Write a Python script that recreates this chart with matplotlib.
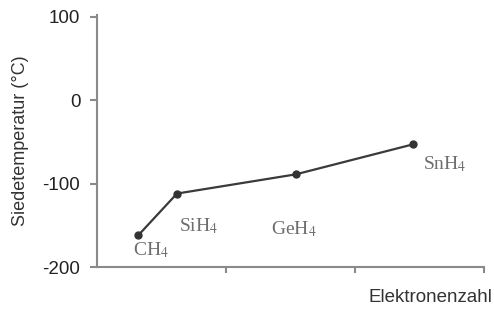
import matplotlib
matplotlib.use('Agg')
import matplotlib.pyplot as plt

plt.rcParams['mathtext.fontset'] = 'stix'

# positions along the (unlabelled) electron-count axis, in tick units
compounds = ['CH$_4$', 'SiH$_4$', 'GeH$_4$', 'SnH$_4$']
x_pos = [0.32, 0.62, 1.54, 2.45]
boiling = [-162, -112, -89, -53]
label_offsets = [(-5, -15), (2, -33), (-25, -55), (10, -20)]  # pixels

y_ticks = [-200, -100, 0, 100]
x_ticks = [0, 1, 2, 3]

sans = ['Liberation Sans', 'DejaVu Sans']
axis_color = '#8a8a8a'

fig = plt.figure(figsize=(4.94, 3.19), dpi=100)
ax = fig.add_axes([97/494, 1 - 267/319, 387/494, 252/319])

ax.plot(x_pos, boiling, color='#3a3a3a', linewidth=1.6, marker='o', markersize=5,
        markerfacecolor='#333333', markeredgecolor='#333333', zorder=3, clip_on=False)

for name, x, y, (dx, dy) in zip(compounds, x_pos, boiling, label_offsets):
    ax.annotate(name, (x, y), xytext=(dx, dy), textcoords='offset pixels',
                ha='left', va='center', fontsize=14, color='#6e6e6e',
                family=['Liberation Serif', 'DejaVu Serif'])

ax.set_xlim(0, 3)
ax.set_ylim(-200, 102)
ax.set_xticks(x_ticks)
ax.set_xticklabels([])
ax.set_yticks(y_ticks)
ax.set_yticklabels([str(t) for t in y_ticks], family=sans, fontsize=13.5, color='#222222')

for side in ['top', 'right']:
    ax.spines[side].set_visible(False)
for side in ['left', 'bottom']:
    ax.spines[side].set_color(axis_color)
    ax.spines[side].set_linewidth(1.5)
ax.tick_params(axis='y', direction='out', length=5, width=1.5, color=axis_color, pad=7)
ax.tick_params(axis='x', direction='out', length=4, width=1.5, color=axis_color)
ax.xaxis.majorTicks[0].tick1line.set_visible(False)

ax.set_ylabel('Siedetemperatur (°C)', family=sans, fontsize=13, color='#333333')
ax.yaxis.set_label_coords(-0.176, 0.5)
fig.text(492/494, 1 - 297/319, 'Elektronenzahl', family=sans, fontsize=13.5,
         color='#333333', ha='right', va='center')

fig.savefig('out.png', dpi=100)
